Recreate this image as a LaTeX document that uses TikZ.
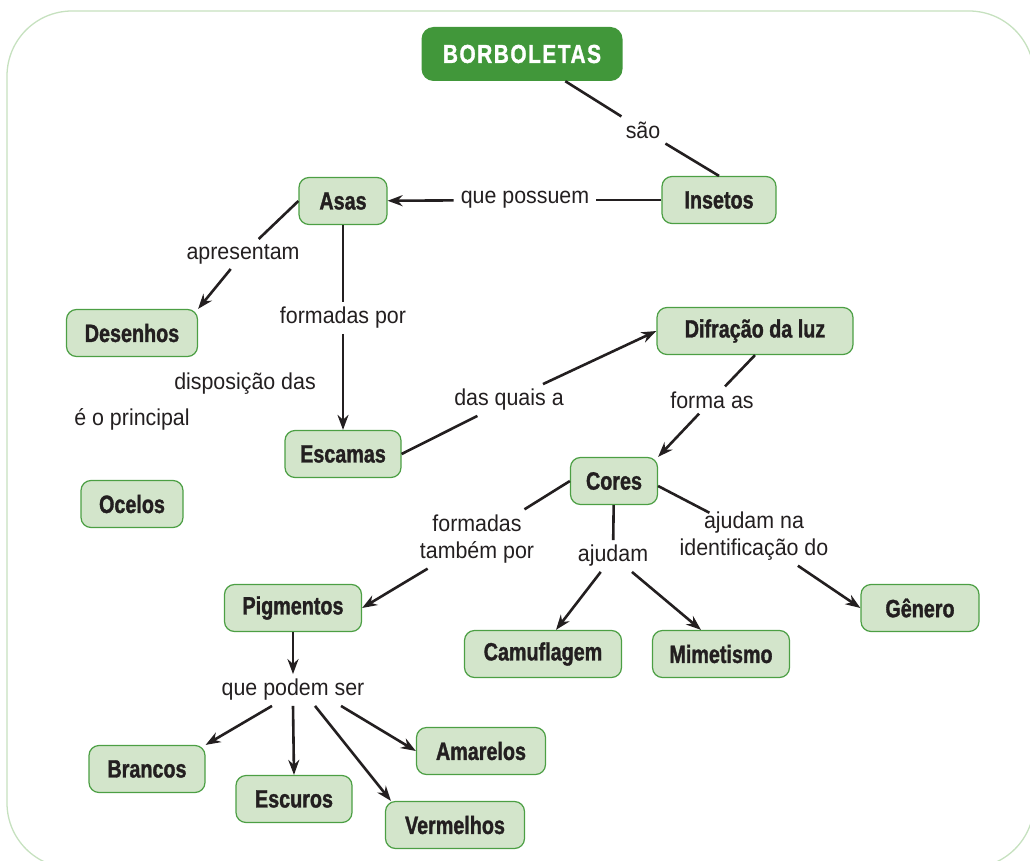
\documentclass[tikz,border=0pt]{standalone}
\usepackage{fontspec}
\setmainfont{Liberation Sans}[FakeStretch=0.93]
\newfontfamily\conceptfont{Liberation Sans}[FakeStretch=0.79, FakeBold=1.3]
\newfontfamily\titlefont{Liberation Sans}[FakeStretch=0.80, LetterSpace=6, FakeBold=1.2]
\usetikzlibrary{arrows.meta, positioning}
\definecolor{leafgreen}{HTML}{41973A}
\definecolor{conceptfill}{HTML}{D3E5CB}
\definecolor{conceptline}{HTML}{4C9F44}
\definecolor{framegreen}{HTML}{C6E1BF}
\definecolor{inkgray}{HTML}{231F20}

\begin{document}
\begin{tikzpicture}[
  x=1pt, y=-1pt,
  concept/.style={draw=conceptline, fill=conceptfill, rounded corners=10pt, line width=1.2pt, minimum height=47pt, inner xsep=12pt, font=\conceptfont\bfseries\fontsize{25}{29}\selectfont, text=inkgray},
  title/.style={fill=leafgreen, rounded corners=12pt, minimum width=201pt, minimum height=54pt, font=\titlefont\bfseries\fontsize{26}{30}\selectfont, text=white},
  lbl/.style={inner xsep=7pt, inner ysep=5pt, align=center, font=\fontsize{23}{27.5}\selectfont, text=inkgray},
  ln/.style={inkgray, line width=2.6pt},
  arr/.style={-{Stealth[length=15pt, width=11pt]}, inkgray, line width=2.6pt}
]
\useasboundingbox (0,0) rectangle (1030,861);
\draw[framegreen, line width=1.3pt, rounded corners=65pt] (7,11) rectangle (1034,868);

% Top: title and first concepts
\node[title] (borb) at (522,54) {BORBOLETAS};
\node[concept, minimum width=114pt] (insetos) at (719,200) {Insetos};
\node[concept, minimum width=88pt] (asas) at (343,201) {Asas};
\node[concept, minimum width=131pt] (desenhos) at (132,333) {Desenhos};
\node[concept, minimum width=116pt] (escamas) at (343,454) {Escamas};
\node[concept, minimum width=102pt] (ocelos) at (132,504) {Ocelos};
\node[concept, minimum width=196pt] (difracao) at (755,331) {Difração da luz};

% Middle: colours
\node[concept, minimum width=87pt] (cores) at (614,481) {Cores};
\node[concept, minimum width=157pt] (camuf) at (543,654) {Camuflagem};
\node[concept, minimum width=137pt] (mimet) at (721,654) {Mimetismo};
\node[concept, minimum width=118pt] (genero) at (920,608) {Gênero};

% Bottom: pigments
\node[concept, minimum width=137pt] (pigm) at (293,608) {Pigmentos};
\node[concept, minimum width=116pt] (brancos) at (147,769) {Brancos};
\node[concept, minimum width=116pt] (escuros) at (294,799) {Escuros};
\node[concept, minimum width=129pt] (amarelos) at (481,751) {Amarelos};
\node[concept, minimum width=139pt] (vermelhos) at (455,825) {Vermelhos};

% Linking phrases
\node[lbl] (sao) at (643,130) {são};
\node[lbl] (possuem) at (525,200) {que possuem};
\node[lbl] (apres) at (243,254) {apresentam};
\node[lbl] (formpor) at (343,318) {formadas por};
\node[lbl] (quais) at (509,400) {das quais a};
\node[lbl] (forma) at (712,400) {forma as};
\node[lbl] (dispos) at (245,384) {disposição das};
\node[lbl] (principal) at (132,419) {é o principal};
\node[lbl] (tambem) at (477,539) {formadas\\também por};
\node[lbl] (ajudam) at (613,556) {ajudam};
\node[lbl] (identif) at (754,536) {ajudam na\\identificação do};
\node[lbl] (podem) at (293,690) {que podem ser};

\draw[ln] (borb) -- (sao);
\draw[ln] (sao) -- (insetos.north);
\draw[ln] (insetos) -- (possuem);
\draw[arr] (possuem) -- (asas);
\draw[ln] (asas.west) -- (apres);
\draw[arr] (apres) -- (desenhos.north east);
\draw[ln] (asas) -- (formpor);
\draw[arr] (formpor) -- (escamas);
\draw[ln] (escamas.east) -- (quais);
\draw[arr] (quais) -- (difracao.west);
\draw[ln] (difracao.south) -- (forma);
\draw[arr] (forma) -- (cores.north east);
\draw[ln] (cores.west) -- (tambem);
\draw[arr] (tambem) -- (pigm.east);
\draw[ln] (cores) -- (ajudam);
\draw[arr] (ajudam) -- ([xshift=13pt]camuf.north);
\draw[arr] (ajudam) -- ([xshift=-20pt]mimet.north);
\draw[ln, shorten >=-14pt] ([yshift=-5pt]cores.east) -- (identif);
\draw[arr] (identif) -- (genero.west);
\draw[arr] (pigm) -- (podem);
\draw[arr] ([xshift=-21pt]podem.south) -- (brancos.north east);
\draw[arr] (podem.south) -- (escuros.north);
\draw[arr] ([xshift=22pt]podem.south) -- ([xshift=6pt]vermelhos.north west);
\draw[arr] ([xshift=48pt]podem.south) -- (amarelos.west);

\end{tikzpicture}
\end{document}
